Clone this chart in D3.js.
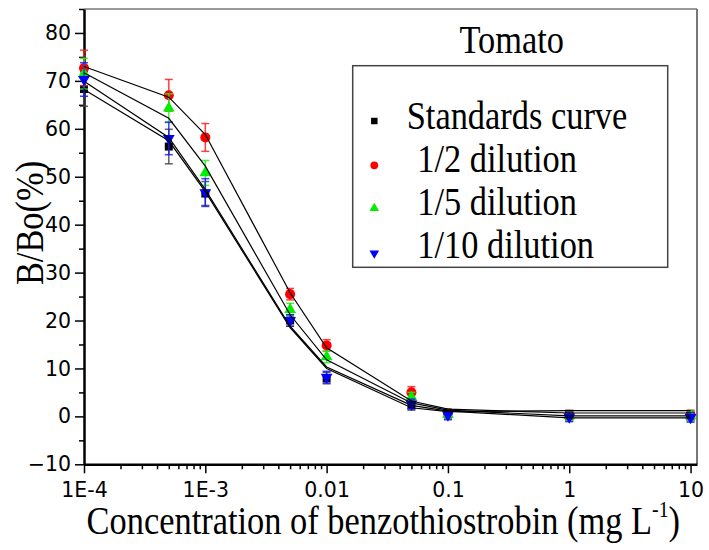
<!DOCTYPE html>
<html>
<head>
<meta charset="utf-8">
<script src="https://cdn.jsdelivr.net/npm/d3@7"></script>
<style>
  body { margin: 0; background: #fff; }
</style>
</head>
<body>
<div id="chart"></div>
<script>
// Values
//////////////////////////////////////////////////////////////////////
const conc = [1e-4, 5e-4, 1e-3, 5e-3, 0.01, 0.05, 0.1, 1, 10];

const stdMean   = [68.3, 56.3, 46.5, 20.0, 8.0, 2.3, 0.5, 0.1, 0.1];
const stdErr    = [3.6, 3.6, 2.5, 1.2, 1.2, 1.0, 1.0, 1.0, 1.0];
const halfMean  = [72.7, 67.0, 58.2, 25.5, 14.8, 5.0, 0.7, 0.3, 0.3];
const halfErr   = [3.7, 3.3, 2.9, 1.2, 1.2, 1.2, 0.8, 1.0, 1.0];
const fifthMean = [71.5, 64.3, 50.8, 22.3, 12.4, 4.0, 0.4, 0.1, 0.1];
const fifthErr  = [3.2, 3.0, 2.6, 1.3, 1.2, 1.0, 1.0, 1.0, 1.0];
const tenthMean = [70.3, 58.0, 46.7, 20.0, 8.2, 2.6, 0.3, -0.1, -0.2];
const tenthErr  = [3.5, 3.4, 2.9, 1.2, 1.2, 1.0, 1.0, 1.0, 1.0];

// fitted curves (values at each concentration)
const fitStd   = [68.2, 57.5, 46.9, 18.5, 10.0, 1.8, 1.0, 1.2, 1.2];
const fitHalf  = [73.0, 66.6, 58.8, 25.8, 14.3, 3.2, 1.5, 0.7, 0.7];
const fitFifth = [71.7, 62.2, 52.2, 21.2, 11.8, 2.8, 1.3, 0.1, 0.1];
const fitTenth = [69.9, 58.2, 47.3, 18.8, 10.3, 2.3, 1.1, -0.3, -0.3];

const xTickValues = [1e-4, 1e-3, 0.01, 0.1, 1, 10];
const xTickLabels = ["1E-4", "1E-3", "0.01", "0.1", "1", "10"];
const yTickValues = [-10, 0, 10, 20, 30, 40, 50, 60, 70, 80];
const yMinorValues = [-5, 5, 15, 25, 35, 45, 55, 65, 75, 85];

const seriesNames = ["Standards curve", "1/2 dilution", "1/5 dilution", "1/10 dilution"];
const panelTitle = "Tomato";

// Layout
//////////////////////////////////////////////////////////////////////
const width = 709, height = 550;
const plot = { left: 84, right: 697, top: 9, bottom: 464.3 };
const serif = "'Liberation Serif','Times New Roman',serif";
const sans = "'DejaVu Sans',sans-serif";
const squeeze = 0.86;   // the serif text is narrow in the picture

const series = [
  { name: seriesNames[0], mean: stdMean,   err: stdErr,   fit: fitStd,   color: "#000000", bar: "#444", sym: d3.symbolSquare,   size: 64,  rot: 0 },
  { name: seriesNames[1], mean: halfMean,  err: halfErr,  fit: fitHalf,  color: "#ff0000", bar: "#ff2020", sym: d3.symbolCircle,   size: 80,  rot: 0 },
  { name: seriesNames[2], mean: fifthMean, err: fifthErr, fit: fitFifth, color: "#00ee00", bar: "#22ee22", sym: d3.symbolTriangle, size: 60,  rot: 0 },
  { name: seriesNames[3], mean: tenthMean, err: tenthErr, fit: fitTenth, color: "#0000ff", bar: "#1a1aff", sym: d3.symbolTriangle, size: 60,  rot: 180 }
];

const svg = d3.select("#chart").append("svg")
  .attr("width", width)
  .attr("height", height)
  .style("display", "block");

// Scales
const x = d3.scaleLog().domain([1e-4, 11.3]).range([plot.left, plot.right]);
const y = d3.scaleLinear().domain([-10, 85]).range([plot.bottom, plot.top]);

// Frame (top / right)
svg.append("line")
  .attr("x1", plot.left).attr("x2", plot.right)
  .attr("y1", plot.top).attr("y2", plot.top)
  .attr("stroke", "#777").attr("stroke-width", 1.5);
svg.append("line")
  .attr("x1", plot.right).attr("x2", plot.right)
  .attr("y1", plot.top).attr("y2", plot.bottom)
  .attr("stroke", "#777").attr("stroke-width", 2);

// Minor ticks
const xMinor = x.ticks().filter(v => Math.abs(Math.log10(v) - Math.round(Math.log10(v))) > 1e-6);
svg.append("g")
  .attr("transform", `translate(0,${plot.bottom})`)
  .call(d3.axisBottom(x).tickValues(xMinor).tickSize(5).tickSizeOuter(0).tickFormat(""))
  .call(g => g.select(".domain").remove())
  .call(g => g.selectAll("line").attr("stroke", "#000").attr("stroke-width", 1.5));
svg.append("g")
  .attr("transform", `translate(${plot.left},0)`)
  .call(d3.axisLeft(y).tickValues(yMinorValues).tickSize(5).tickSizeOuter(0).tickFormat(""))
  .call(g => g.select(".domain").remove())
  .call(g => g.selectAll("line").attr("stroke", "#000").attr("stroke-width", 1.5));

// Major axes
svg.append("g")
  .attr("transform", `translate(0,${plot.bottom})`)
  .call(d3.axisBottom(x).tickValues(xTickValues).tickSize(9).tickSizeOuter(0).tickPadding(9)
    .tickFormat((d, i) => xTickLabels[i]))
  .call(g => g.select(".domain").attr("stroke", "#000").attr("stroke-width", 2.5))
  .call(g => g.selectAll(".tick line").attr("stroke", "#000").attr("stroke-width", 1.5))
  .call(g => g.selectAll("text").attr("font-family", sans).attr("font-size", 20.5).attr("fill", "#000"));

svg.append("g")
  .attr("transform", `translate(${plot.left},0)`)
  .call(d3.axisLeft(y).tickValues(yTickValues).tickSize(9).tickSizeOuter(0).tickPadding(4))
  .call(g => g.select(".domain").attr("stroke", "#000").attr("stroke-width", 2.5))
  .call(g => g.selectAll(".tick line").attr("stroke", "#000").attr("stroke-width", 1.5))
  .call(g => g.selectAll("text").attr("font-family", sans).attr("font-size", 20.5).attr("fill", "#000"));

// Points with error bars
const capW = 4;
series.forEach(s => {
  const g = svg.append("g");
  const pts = conc.map((c, i) => ({ c, v: s.mean[i], e: s.err[i] }));
  const eb = g.append("g")
    .attr("stroke", s.bar).attr("stroke-width", 1.5).attr("stroke-opacity", 0.85)
    .selectAll("g").data(pts).join("g");
  eb.append("line")
    .attr("x1", d => x(d.c)).attr("x2", d => x(d.c))
    .attr("y1", d => y(d.v - d.e)).attr("y2", d => y(d.v + d.e));
  eb.append("line")
    .attr("x1", d => x(d.c) - capW).attr("x2", d => x(d.c) + capW)
    .attr("y1", d => y(d.v + d.e)).attr("y2", d => y(d.v + d.e));
  eb.append("line")
    .attr("x1", d => x(d.c) - capW).attr("x2", d => x(d.c) + capW)
    .attr("y1", d => y(d.v - d.e)).attr("y2", d => y(d.v - d.e));
  g.append("g").selectAll("path").data(pts).join("path")
    .attr("d", d3.symbol(s.sym, s.size))
    .attr("fill", s.color)
    .attr("transform", d => `translate(${x(d.c)},${y(d.v)}) rotate(${s.rot})`);
});

// Fitted curves
const line = d3.line().x(d => x(d[0])).y(d => y(d[1]));
svg.append("g")
  .attr("fill", "none").attr("stroke", "#000").attr("stroke-width", 1.2)
  .selectAll("path").data(series).join("path")
  .attr("d", s => line(conc.map((c, i) => [c, s.fit[i]])));

// Legend
//////////////////////////////////////////////////////////////////////
function squeezedText(parent, tx, ty, str, size, anchor) {
  return parent.append("g")
    .attr("transform", `translate(${tx},${ty}) scale(${squeeze},1)`)
    .append("text")
    .attr("font-family", serif)
    .attr("font-size", size)
    .attr("text-anchor", anchor || "start")
    .attr("fill", "#000")
    .text(str);
}

squeezedText(svg, 511.7, 53, panelTitle, 40, "middle");

const legend = svg.append("g");
legend.append("rect")
  .attr("x", 352.7).attr("y", 65.7)
  .attr("width", 315).attr("height", 201.6)
  .attr("fill", "#fff").attr("stroke", "#444").attr("stroke-width", 1.5);
const legRows = [
  { my: 121, ty: 129, tx: 406.7, size: 40 },
  { my: 165.3, ty: 171.7, tx: 417.3, size: 48 },
  { my: 208.3, ty: 215, tx: 417.3, size: 40 },
  { my: 253.3, ty: 258.3, tx: 417.3, size: 40 }
];
series.forEach((s, i) => {
  const r = legRows[i];
  legend.append("path")
    .attr("d", d3.symbol(s.sym, i === 0 ? 42 : r.size))
    .attr("fill", s.color)
    .attr("transform", `translate(374.3,${r.my}) rotate(${s.rot})`);
  squeezedText(legend, r.tx, r.ty, s.name, 40);
});

// Axis titles
//////////////////////////////////////////////////////////////////////
const xt = svg.append("g")
  .attr("transform", `translate(383.3,534) scale(${squeeze},1)`)
  .append("text")
  .attr("font-family", serif).attr("font-size", 40)
  .attr("text-anchor", "middle").attr("fill", "#000");
xt.append("tspan").text("Concentration of benzothiostrobin (mg L");
xt.append("tspan").attr("font-size", 23).attr("dy", -17).text("-1");
xt.append("tspan").attr("dy", 17).text(")");

svg.append("g")
  .attr("transform", `translate(43,223) rotate(-90) scale(${squeeze},1)`)
  .append("text")
  .attr("font-family", serif).attr("font-size", 40)
  .attr("text-anchor", "middle").attr("fill", "#000")
  .text("B/Bo(%)");
</script>
</body>
</html>
